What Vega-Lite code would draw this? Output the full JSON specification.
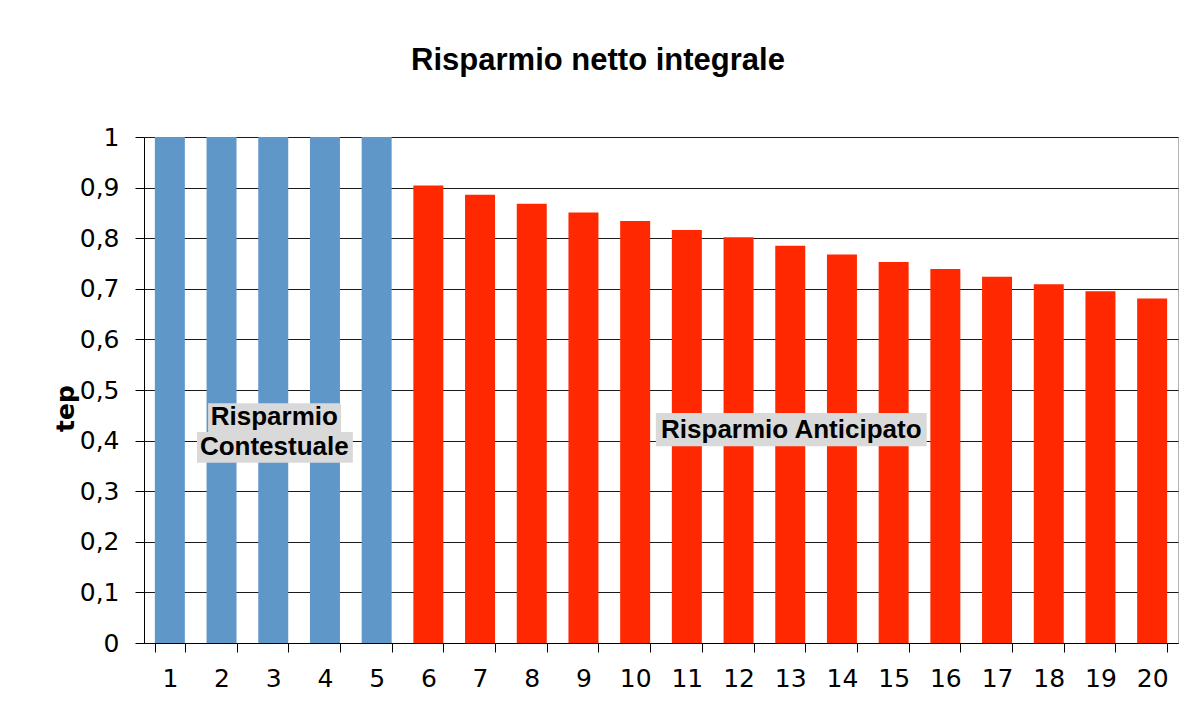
{
  "$schema": "https://vega.github.io/schema/vega-lite/v6.json",
  "width": 1034,
  "height": 506,
  "autosize": {"type": "none"},
  "padding": {"left": 144, "top": 137, "right": 14, "bottom": 72},
  "background": "white",
  "title": {
    "text": "Risparmio netto integrale",
    "font": "Liberation Sans",
    "fontSize": 31,
    "fontWeight": "bold",
    "color": "black",
    "anchor": "middle",
    "frame": "group",
    "baseline": "alphabetic",
    "offset": 24,
    "dx": -63
  },
  "config": {
    "view": {"stroke": "#b3b3b3", "strokeWidth": 1}
  },
  "datasets": {
    "bars": [
      {"anno": 1, "tep": 1, "tipo": "Contestuale"},
      {"anno": 2, "tep": 1, "tipo": "Contestuale"},
      {"anno": 3, "tep": 1, "tipo": "Contestuale"},
      {"anno": 4, "tep": 1, "tipo": "Contestuale"},
      {"anno": 5, "tep": 1, "tipo": "Contestuale"},
      {"anno": 6, "tep": 0.904, "tipo": "Anticipato"},
      {"anno": 7, "tep": 0.886, "tipo": "Anticipato"},
      {"anno": 8, "tep": 0.868, "tipo": "Anticipato"},
      {"anno": 9, "tep": 0.851, "tipo": "Anticipato"},
      {"anno": 10, "tep": 0.834, "tipo": "Anticipato"},
      {"anno": 11, "tep": 0.816, "tipo": "Anticipato"},
      {"anno": 12, "tep": 0.802, "tipo": "Anticipato"},
      {"anno": 13, "tep": 0.785, "tipo": "Anticipato"},
      {"anno": 14, "tep": 0.768, "tipo": "Anticipato"},
      {"anno": 15, "tep": 0.753, "tipo": "Anticipato"},
      {"anno": 16, "tep": 0.739, "tipo": "Anticipato"},
      {"anno": 17, "tep": 0.724, "tipo": "Anticipato"},
      {"anno": 18, "tep": 0.709, "tipo": "Anticipato"},
      {"anno": 19, "tep": 0.695, "tipo": "Anticipato"},
      {"anno": 20, "tep": 0.681, "tipo": "Anticipato"}
    ],
    "boxes": [
      {"x1": 1.74, "x2": 4.31, "y1": 0.474, "y2": 0.417},
      {"x1": 1.525, "x2": 4.54, "y1": 0.417, "y2": 0.356},
      {"x1": 10.40, "x2": 15.64, "y1": 0.4545, "y2": 0.389}
    ],
    "labels": [
      {"testo": "Risparmio", "x": 3.02, "y": 0.447},
      {"testo": "Contestuale", "x": 3.02, "y": 0.387},
      {"testo": "Risparmio Anticipato", "x": 13.02, "y": 0.421}
    ]
  },
  "layer": [
    {
      "data": {"name": "bars"},
      "mark": {"type": "bar"},
      "encoding": {
        "x": {
          "field": "anno",
          "type": "ordinal",
          "scale": {"paddingInner": 0.42, "paddingOuter": 0.21},
          "axis": {
            "title": null,
            "labelAngle": 0,
            "tickBand": "extent",
            "tickSize": 9,
            "tickColor": "black",
            "domainColor": "black",
            "labelFont": "DejaVu Sans",
            "labelFontSize": 25,
            "labelColor": "black",
            "labelPadding": 14,
            "grid": false
          }
        },
        "y": {
          "field": "tep",
          "type": "quantitative",
          "scale": {"domain": [0, 1]},
          "axis": {
            "values": [0, 0.1, 0.2, 0.3, 0.4, 0.5, 0.6, 0.7, 0.8, 0.9, 1],
            "labelExpr": "replace(format(datum.value, '~g'), '.', ',')",
            "grid": true,
            "gridColor": "#1a1a1a",
            "gridWidth": 1.2,
            "tickSize": 9,
            "tickColor": "black",
            "domainColor": "black",
            "labelFont": "DejaVu Sans",
            "labelFontSize": 25,
            "labelColor": "black",
            "labelPadding": 16,
            "title": "tep",
            "titleFont": "DejaVu Sans",
            "titleFontSize": 25,
            "titleFontWeight": "bold",
            "titleColor": "black",
            "titleAngle": 270,
            "titleX": -71,
            "titleY": 271,
            "titleAlign": "center",
            "titleBaseline": "alphabetic"
          }
        },
        "color": {
          "field": "tipo",
          "type": "nominal",
          "scale": {"domain": ["Contestuale", "Anticipato"], "range": ["#6097c9", "#ff2800"]},
          "legend": null
        }
      }
    },
    {
      "data": {"name": "boxes"},
      "mark": {"type": "rect", "color": "#d9d9d9"},
      "encoding": {
        "x": {"field": "x1", "type": "quantitative", "scale": {"domain": [0.5, 20.5], "nice": false, "zero": false}, "axis": null},
        "x2": {"field": "x2"},
        "y": {"field": "y1", "type": "quantitative"},
        "y2": {"field": "y2"}
      }
    },
    {
      "data": {"name": "labels"},
      "mark": {"type": "text", "font": "Liberation Sans", "fontWeight": "bold", "fontSize": 26, "align": "center", "baseline": "middle", "color": "black"},
      "encoding": {
        "x": {"field": "x", "type": "quantitative", "scale": {"domain": [0.5, 20.5], "nice": false, "zero": false}, "axis": null},
        "y": {"field": "y", "type": "quantitative"},
        "text": {"field": "testo"}
      }
    }
  ],
  "resolve": {"scale": {"x": "independent"}}
}
